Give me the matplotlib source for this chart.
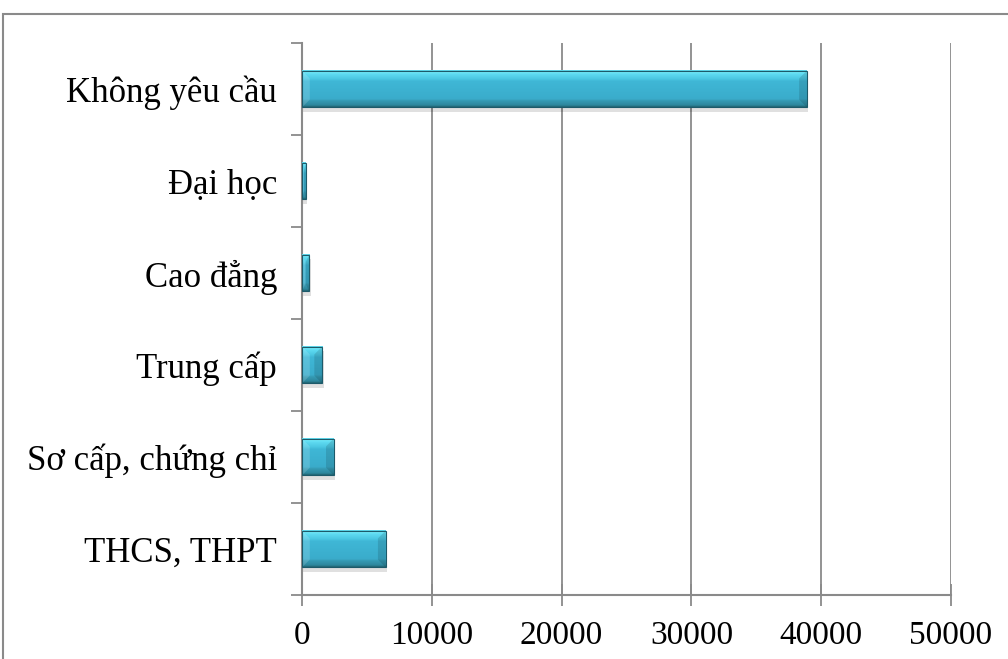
import numpy as np
import matplotlib.pyplot as plt
from matplotlib.colors import LinearSegmentedColormap
from matplotlib.patches import Rectangle, Polygon

# số liệu
categories = ['THCS, THPT', 'Sơ cấp, chứng chỉ', 'Trung cấp', 'Cao đẳng', 'Đại học', 'Không yêu cầu']
values = [6450, 2450, 1550, 550, 300, 38900]
xticks = [0, 10000, 20000, 30000, 40000, 50000]

plt.rcParams['font.family'] = ['Liberation Serif', 'DejaVu Serif']

fig = plt.figure(figsize=(10.08, 6.59), dpi=100)
ax = fig.add_axes([302/1008, 64/659, 649/1008, 552/659])

grey = '#8a8a8a'
bars = ax.barh(range(len(categories)), values, height=0.4, color='none',
               edgecolor='#1d5a6a', lw=0.8, zorder=4)

cmap = LinearSegmentedColormap.from_list('bevel', [
    (0.0, '#21626f'), (0.05, '#2e879d'), (0.17, '#359ab4'), (0.22, '#3aaccb'),
    (0.7, '#3fb7d6'), (0.76, '#4bc7e2'), (0.9, '#60dcf2'), (0.96, '#7af0fd'),
    (1.0, '#52cce4')])
grad = np.linspace(0, 1, 256).reshape(-1, 1)

for b in bars:
    x0, y0 = b.get_x(), b.get_y()
    w, h = b.get_width(), b.get_height()
    # bóng đổ
    ax.add_patch(Rectangle((x0, y0 - 0.05), w + 120, h, color='black', alpha=0.12, lw=0, zorder=2.4))
    ax.imshow(grad, cmap=cmap, origin='lower', aspect='auto',
              extent=(x0, x0 + w, y0, y0 + h), zorder=3)
    d = min(600, w / 2)
    e = 0.085
    ax.add_patch(Polygon([(x0, y0), (x0 + d, y0 + e), (x0 + d, y0 + h - e), (x0, y0 + h)],
                         closed=True, color='white', alpha=0.15, lw=0, zorder=3.5))
    ax.add_patch(Polygon([(x0 + w, y0), (x0 + w - d, y0 + e), (x0 + w - d, y0 + h - e), (x0 + w, y0 + h)],
                         closed=True, color='black', alpha=0.12, lw=0, zorder=3.5))

ax.set_xlim(0, 50000)
ax.set_ylim(-0.5, len(categories) - 0.5)

ax.set_xticks(xticks)
ax.set_xticklabels([str(t) for t in xticks])
ax.set_yticks(range(len(categories)))
ax.set_yticklabels(categories)
ax.set_yticks(np.arange(-0.5, len(categories), 1), minor=True)

ax.tick_params(axis='x', direction='inout', length=16, width=1.3, color=grey,
               labelsize=24, pad=10)
ax.tick_params(axis='y', which='major', length=0, labelsize=25, pad=18)
ax.tick_params(axis='y', which='minor', direction='out', length=8, width=1.3, color=grey)

ax.grid(axis='x', color=grey, lw=1.3)
ax.set_axisbelow(True)
for s in ['top', 'right']:
    ax.spines[s].set_visible(False)
for s in ['left', 'bottom']:
    ax.spines[s].set_color(grey)
    ax.spines[s].set_linewidth(1.5)

fig.add_artist(Rectangle((3/1008, -0.05), 1.1, (1 - 13.5/659) + 0.05,
                         transform=fig.transFigure, fill=False, ec=grey, lw=1.5))

fig.savefig('out.png', dpi=100)
